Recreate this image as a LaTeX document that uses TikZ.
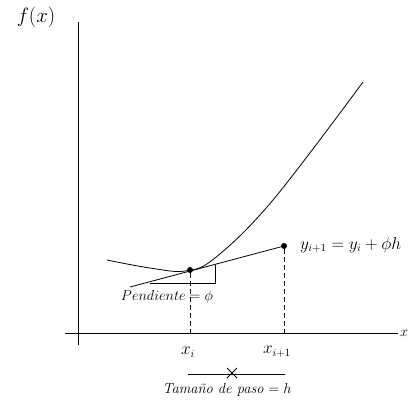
\documentclass[tikz,border=0pt]{standalone}
\usepackage{fontspec}
\begin{document}
\begin{tikzpicture}[
    x=1pt,
    y=-1pt,
    eje/.style={
        line width=0.8pt,
        black
    },
    guia/.style={
        line width=0.8pt,
        dash pattern=on 5pt off 3pt
    },
    punto/.style={
        circle,
        fill=black,
        inner sep=0pt,
        minimum size=6pt
    },
    etiqueta/.style={
        font=\fontsize{14.5}{16}\selectfont,
        text=black,
        inner sep=1pt
    }
]
\useasboundingbox (0,0) rectangle (409,400);

% Ejes
\coordinate (ejeYarriba) at (78,22);
\coordinate (ejeYabajo) at (78,345);
\coordinate (ejeXizq) at (65,333);
\coordinate (ejeXder) at (398,333);
\draw[eje] (ejeYabajo) -- (ejeYarriba);
\draw[eje] (ejeXizq) -- (ejeXder);
\node[font=\fontsize{22}{24}\selectfont] (fx) at (36,17) {$f(x)$};
\node[etiqueta, anchor=west] (ejex) at (399,333) {$x$};

% Curva
\draw[line width=0.8pt] plot[smooth, tension=0.6] coordinates {(107,260) (150,268) (185,271) (215,258) (273,200) (363,82)};

% Puntos
\node[punto] (pA) at (190,270) {};
\node[punto] (pB) at (284,246) {};
\coordinate (tanIni) at (130,287);
\draw[line width=0.8pt] (tanIni) -- (pB);

% Triangulo de la pendiente
\coordinate (triIzq) at (150,283);
\coordinate (triDer) at (215,283);
\coordinate (triArr) at (215,265);
\draw[line width=0.8pt] (triIzq) -- (triDer) -- (triArr);
\node[etiqueta] (pend) at (167,297) {$Pendiente = \phi$};

% Verticales
\draw[guia] (pA) -- (pA |- ejeXder);
\draw[guia] (pB) -- (pB |- ejeXder);
\node[etiqueta, font=\fontsize{16}{18}\selectfont, anchor=west] (ysig) at (299,245) {$y_{i+1} = y_i + \phi h$};
\node[etiqueta, font=\fontsize{16}{18}\selectfont] (xi) at (188,352) {$x_i$};
\node[etiqueta, font=\fontsize{16}{18}\selectfont] (xsig) at (277,352) {$x_{i+1}$};

% Paso
\coordinate (pasoIzq) at (188,374);
\coordinate (pasoDer) at (285,374);
\coordinate (marca) at (232,373);
\draw[line width=0.8pt] (pasoIzq) -- (pasoDer);
\draw[line width=0.8pt] (marca) ++(-5,-5) -- ++(10,10) (marca) ++(-5,5) -- ++(10,-10);
\node[etiqueta] (paso) at (227,390) {\textit{Tamaño de paso} $= h$};

\end{tikzpicture}
\end{document}
